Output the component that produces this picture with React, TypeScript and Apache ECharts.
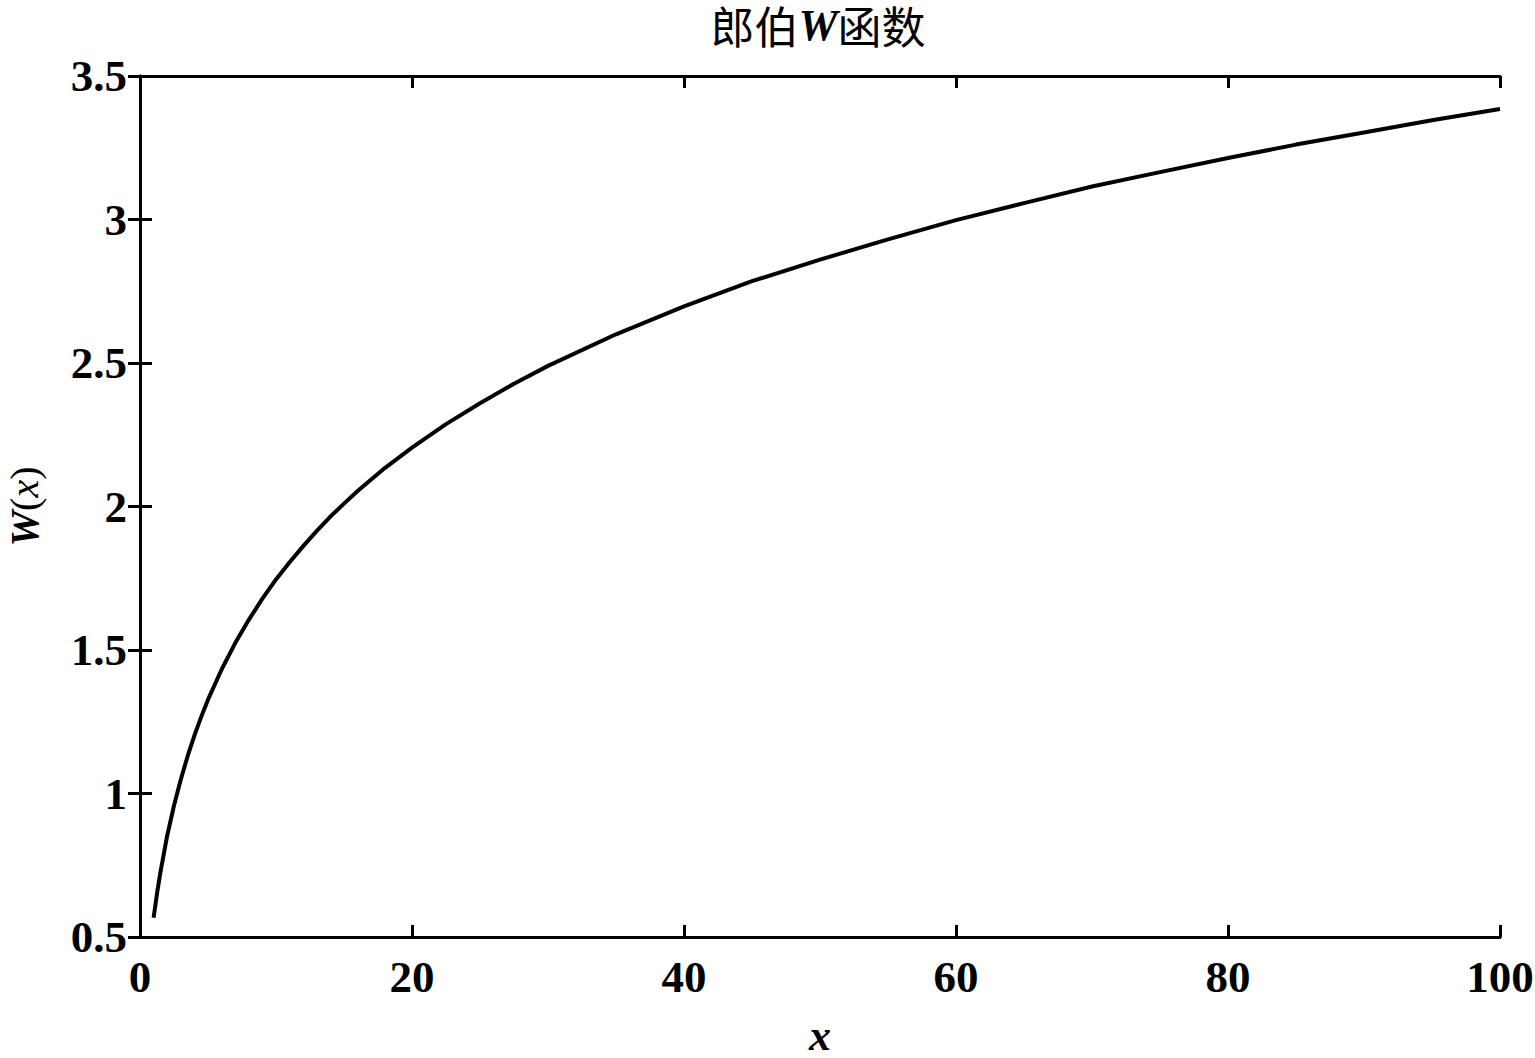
import React, { useEffect, useRef } from "react";
import * as echarts from "echarts";

const xValues = [1, 1.25, 1.5, 2, 2.5, 3, 3.5, 4, 4.5, 5, 6, 7, 8, 9, 10, 11, 12, 13, 14, 15, 16, 18, 20, 22.5, 25, 27.5, 30, 35, 40, 45, 50, 55, 60, 65, 70, 75, 80, 85, 90, 95, 100];
const wValues = [0.567, 0.651, 0.725, 0.853, 0.958, 1.049, 1.13, 1.202, 1.267, 1.327, 1.432, 1.524, 1.605, 1.679, 1.746, 1.806, 1.862, 1.915, 1.965, 2.01, 2.054, 2.134, 2.205, 2.287, 2.36, 2.428, 2.49, 2.6, 2.697, 2.785, 2.86, 2.931, 2.998, 3.057, 3.115, 3.165, 3.214, 3.261, 3.303, 3.346, 3.385];
const xTicks = [0, 20, 40, 60, 80, 100];
const yTicks = [0.5, 1, 1.5, 2, 2.5, 3, 3.5];

const SERIF = "'Liberation Serif', 'Times New Roman', serif";
const CJK = "'Noto Sans CJK SC', sans-serif";

export default function App() {
  const ref = useRef<HTMLDivElement>(null);
  useEffect(() => {
    if (!ref.current) return;
    const chart = echarts.init(ref.current, undefined, { renderer: "svg" });
    const data = xValues.map((x, i) => [x, wValues[i]]);
    const tickLabelStyle = {
      fontFamily: SERIF,
      fontWeight: "bold" as const,
      fontSize: 45,
      color: "#000",
    };
    const axisLine = { show: true, lineStyle: { color: "#000", width: 3 } };
    const axisTick = { show: true, inside: true, length: 12, lineStyle: { color: "#000", width: 3 } };
    chart.setOption({
      animation: false,
      backgroundColor: "#fff",
      title: {
        text: "{a|郎伯}{w|W}{a|函数}",
        left: 818,
        textAlign: "center",
        top: 3,
        padding: 0,
        textStyle: {
          rich: {
            a: { fontFamily: CJK, fontSize: 44, color: "#000", fontWeight: "normal" },
            w: { fontFamily: SERIF, fontSize: 44, color: "#000", fontWeight: "bold", fontStyle: "italic" },
          },
        },
      },
      grid: { left: 140, top: 76, right: 35, bottom: 121, containLabel: false, outerBoundsMode: "none" },
      xAxis: [
        {
          type: "value",
          min: xTicks[0],
          max: xTicks[xTicks.length - 1],
          interval: 20,
          position: "bottom",
          axisLine,
          axisTick,
          splitLine: { show: false },
          axisLabel: { ...tickLabelStyle, margin: 17 },
          name: "x",
          nameLocation: "middle",
          nameGap: 76,
          nameTextStyle: {
            fontFamily: SERIF,
            fontSize: 44,
            fontStyle: "italic",
            fontWeight: "bold",
            color: "#000",
          },
        },
        {
          type: "value",
          min: xTicks[0],
          max: xTicks[xTicks.length - 1],
          interval: 20,
          position: "top",
          axisLine,
          axisTick,
          splitLine: { show: false },
          axisLabel: { show: false },
        },
      ],
      yAxis: [
        {
          type: "value",
          min: yTicks[0],
          max: yTicks[yTicks.length - 1],
          interval: 0.5,
          position: "left",
          axisLine,
          axisTick,
          splitLine: { show: false },
          axisLabel: { ...tickLabelStyle, margin: 13 },
          name: "{w|W}{p|(}{x|x}{p|)}",
          nameLocation: "middle",
          nameGap: 96,
          nameRotate: 90,
          nameTextStyle: {
            rich: {
              w: { fontFamily: SERIF, fontSize: 40, fontStyle: "italic", fontWeight: "bold", color: "#000" },
              p: { fontFamily: SERIF, fontSize: 40, fontWeight: "normal", color: "#000" },
              x: { fontFamily: SERIF, fontSize: 40, fontStyle: "italic", fontWeight: "normal", color: "#000" },
            },
          },
        },
        {
          type: "value",
          min: yTicks[0],
          max: yTicks[yTicks.length - 1],
          interval: 0.5,
          position: "right",
          axisLine,
          axisTick,
          splitLine: { show: false },
          axisLabel: { show: false },
        },
      ],
      series: [
        {
          type: "line",
          data,
          xAxisIndex: 0,
          yAxisIndex: 0,
          showSymbol: false,
          smooth: false,
          lineStyle: { color: "#000", width: 4 },
        },
      ],
    });
    return () => chart.dispose();
  }, []);
  return (
    <div
      ref={ref}
      style={{ position: "fixed", left: 0, top: 0, width: 1535, height: 1058, background: "#fff" }}
    />
  );
}
